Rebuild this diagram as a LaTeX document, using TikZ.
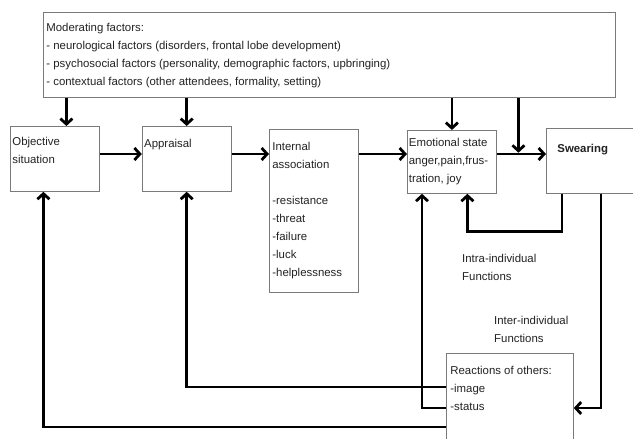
\documentclass[tikz,border=0pt]{standalone}
\usepackage{fontspec}
\setmainfont{Liberation Sans}
\usetikzlibrary{arrows.meta, positioning, calc}
\definecolor{boxline}{HTML}{7A7A7A}
\definecolor{ink}{HTML}{222222}
\newcommand{\boxtext}[3]{\parbox[t][#2][t]{#1}{\raggedright\strut#3}}

\begin{document}
\begin{tikzpicture}[
  x=1pt, y=-1pt,
  every node/.style={font=\fontsize{11.4}{18}\selectfont, text=ink},
  box/.style={draw=boxline, line width=0.8pt, anchor=north west,
              inner xsep=3pt, inner ysep=6.5pt},
  note/.style={anchor=north west, align=left, inner sep=0pt},
  arr/.style={-{Straight Barb[length=5.5pt, width=12pt]}, line width=2.8pt}
]
  \path[use as bounding box, fill=white] (0,0) rectangle (633,439);

  \node[box] (mod) at (43,12) {\boxtext{566pt}{72pt}{Moderating factors:\\- neurological factors (disorders, frontal lobe development)\\- psychosocial factors (personality, demographic factors, upbringing)\\- contextual factors (other attendees, formality, setting)}};
  \node[box, inner xsep=2pt] (obj) at (10,126) {\boxtext{85pt}{52pt}{Objective\\situation}};
  \node[box, right=42pt of obj.north east, anchor=north west, inner xsep=2pt, inner ysep=8.4pt] (appr) {\boxtext{85pt}{48.2pt}{Appraisal}};
  \node[box, inner ysep=8.4pt] (int) at (269,129) {\boxtext{83pt}{146.2pt}{Internal\\association\\\mbox{}\\-resistance\\-threat\\-failure\\-luck\\-helplessness}};
  \node[box, inner xsep=1.5pt, inner ysep=3.4pt] (emo) at (407,130) {\boxtext{86pt}{56.2pt}{Emotional state\\anger,pain,frus-\\tration, joy}};
  \node[box, inner xsep=11pt, inner ysep=11.6pt] (swear) at (546,128) {\boxtext{78pt}{41.8pt}{\textbf{Swearing}}};
  \node[box, inner xsep=4pt, inner ysep=8.4pt] (react) at (446,353) {\boxtext{119pt}{83.2pt}{Reactions of others:\\-image\\-status}};

  \node[note] (intra) at (462,249.4) {\strut Intra-individual\\Functions};
  \node[note] (inter) at (494,311.4) {\strut Inter-individual\\Functions};

  \coordinate (row) at (0,154);
  \coordinate (objtop) at ([xshift=11.5pt]obj.north);
  \coordinate (objbot) at ([xshift=-11.5pt]obj.south);
  \coordinate (join) at ($(emo.east |- row)!0.44!(swear.west |- row)$);
  \coordinate (emol) at ([xshift=15pt]emo.south west);
  \coordinate (emor) at ([xshift=15.5pt]emo.south);
  \coordinate (swl) at ([xshift=16pt]swear.south west);
  \coordinate (swr) at ([xshift=55pt]swear.south west);
  \coordinate (img) at ([yshift=-34pt]react.north west);
  \coordinate (stat) at ([yshift=-55pt]react.north west);
  \coordinate (bot) at ([yshift=-74pt]react.north west);

  \draw[arr] (mod.south -| objtop) -- (objtop);
  \draw[arr] (mod.south -| appr.north) -- (appr.north);
  \draw[arr] (mod.south -| emo.north) -- (emo.north);
  \draw[arr] (mod.south -| join) -- ([yshift=1.3pt]join);

  \draw[arr] (obj.east |- row) -- (appr.west |- row);
  \draw[arr] (appr.east |- row) -- (int.west |- row);
  \draw[arr] (int.east |- row) -- (emo.west |- row);
  \draw[arr] (emo.east |- row) -- (swear.west |- row);

  \draw[arr] (swl) -- ++(0,38) -| (emor);
  \draw[arr] (swr) |- (react.east |- stat);
  \draw[arr] (img) -| (appr.south);
  \draw[arr] (stat) -| (emol);
  \draw[arr] (bot) -| (objbot);
\end{tikzpicture}
\end{document}
